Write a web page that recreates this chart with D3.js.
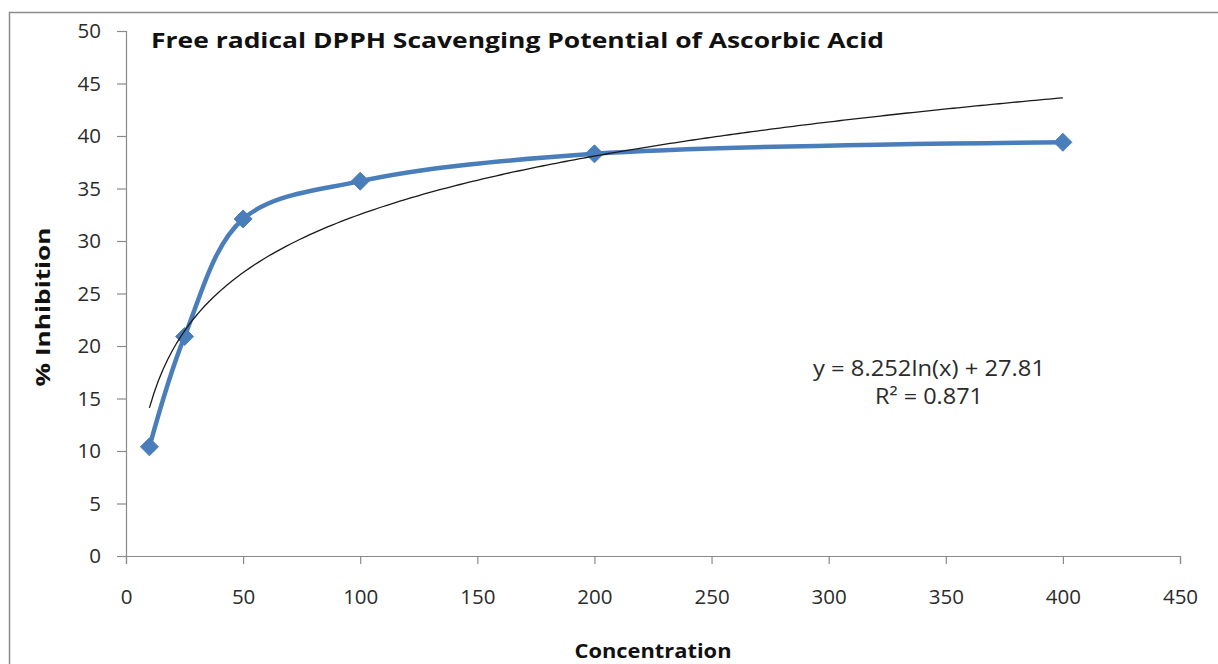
<!DOCTYPE html>
<html>
<head>
<meta charset="utf-8">
<script src="https://cdn.jsdelivr.net/npm/d3@7"></script>
<style>
  html, body { margin: 0; padding: 0; background: #fff; }
  svg { display: block; font-family: "Open Sans", "DejaVu Sans", sans-serif; }
</style>
</head>
<body>
<svg id="chart" width="1218" height="664"></svg>
<script>
// Ascorbic acid concentration and measured % inhibition
const concentrations = [10, 25, 50, 100, 200, 400];
const inhibition = [10.4, 20.9, 32.1, 35.7, 38.3, 39.4];
const xTicks = [0, 50, 100, 150, 200, 250, 300, 350, 400, 450];
const yTicks = [0, 5, 10, 15, 20, 25, 30, 35, 40, 45, 50];
const trendLabels = ["y = 8.252ln(x) + 27.81", "R² = 0.871"];

const svg = d3.select("#chart");
const W = 1218, H = 664;

// chart frame
svg.append("rect")
  .attr("x", 9.5).attr("y", 12.5)
  .attr("width", W + 20).attr("height", H + 20)
  .attr("fill", "#fff").attr("stroke", "#8c8c8c").attr("stroke-width", 1.5);

const x = d3.scaleLinear().domain([0, 450]).range([126, 1180]);
const y = d3.scaleLinear().domain([0, 50]).range([556, 31]);

const axisColor = "#8a8a8a";
const textColor = "#2b2b2b";

// y axis
const gy = svg.append("g")
  .attr("transform", `translate(${x(0)},0)`)
  .call(d3.axisLeft(y).tickValues(yTicks).tickSize(9).tickPadding(16).tickFormat(d3.format("d")));
gy.select(".domain").attr("stroke", axisColor).attr("stroke-width", 1.2);
gy.selectAll(".tick line").attr("stroke", axisColor).attr("stroke-width", 1.2);
gy.selectAll(".tick text").attr("font-size", 20.5).attr("fill", textColor)
  .attr("font-family", "'Open Sans', sans-serif");

// x axis
const gx = svg.append("g")
  .attr("transform", `translate(0,${y(0)})`)
  .call(d3.axisBottom(x).tickValues(xTicks).tickSize(8).tickPadding(25).tickFormat(d3.format("d")));
gx.select(".domain").attr("stroke", axisColor).attr("stroke-width", 1.2);
gx.selectAll(".tick line").attr("stroke", axisColor).attr("stroke-width", 1.2);
gx.selectAll(".tick text").attr("font-size", 20.5).attr("fill", textColor)
  .attr("font-family", "'Open Sans', sans-serif");

// logarithmic least-squares trend of the measurements
const lx = concentrations.map(Math.log);
const mx = d3.mean(lx), my = d3.mean(inhibition);
const slope = d3.sum(lx, (v, i) => (v - mx) * (inhibition[i] - my)) / d3.sum(lx, v => (v - mx) ** 2);
const intercept = my - slope * mx;
const trendPts = d3.range(0, 201).map(i => {
  const c = concentrations[0] + (concentrations[concentrations.length - 1] - concentrations[0]) * i / 200;
  return [c, slope * Math.log(c) + intercept];
});

const data = concentrations.map((c, i) => ({ c, v: inhibition[i] }));
const blue = "#4a7ebb";

// smoothed series line
svg.append("path")
  .datum(data)
  .attr("fill", "none").attr("stroke", blue).attr("stroke-width", 4.5)
  .attr("stroke-linejoin", "round").attr("stroke-linecap", "round")
  .attr("d", d3.line().x(d => x(d.c)).y(d => y(d.v)).curve(d3.curveCatmullRom.alpha(0.5)));

// diamond markers
svg.append("g").selectAll("path")
  .data(data).join("path")
  .attr("transform", d => `translate(${x(d.c)},${y(d.v)})`)
  .attr("d", "M0,-9L9,0L0,9L-9,0Z")
  .attr("fill", blue).attr("stroke", blue).attr("stroke-width", 1);

// trend line
svg.append("path")
  .datum(trendPts)
  .attr("fill", "none").attr("stroke", "#1a1a1a").attr("stroke-width", 1.3)
  .attr("d", d3.line().x(d => x(d[0])).y(d => y(d[1])));

// title
svg.append("text")
  .attr("x", 151).attr("y", 48)
  .attr("font-size", 22).attr("font-weight", "bold").attr("fill", "#111")
  .attr("textLength", 733).attr("lengthAdjust", "spacingAndGlyphs")
  .text("Free radical DPPH Scavenging Potential of Ascorbic Acid");

// axis titles
svg.append("text")
  .attr("transform", "translate(50,307) rotate(-90)")
  .attr("text-anchor", "middle")
  .attr("font-size", 20).attr("font-weight", "bold").attr("fill", "#111")
  .attr("textLength", 159).attr("lengthAdjust", "spacingAndGlyphs")
  .text("% Inhibition");

svg.append("text")
  .attr("x", 653).attr("y", 658)
  .attr("text-anchor", "middle")
  .attr("font-size", 20).attr("font-weight", "bold").attr("fill", "#111")
  .attr("textLength", 157).attr("lengthAdjust", "spacingAndGlyphs")
  .text("Concentration");

// trend equation
const eqWidths = [232, 108];
svg.append("g").selectAll("text")
  .data(trendLabels).join("text")
  .attr("x", 929).attr("y", (d, i) => 376 + i * 28)
  .attr("text-anchor", "middle")
  .attr("font-size", 22).attr("fill", textColor)
  .attr("textLength", (d, i) => eqWidths[i]).attr("lengthAdjust", "spacingAndGlyphs")
  .text(d => d);
</script>
</body>
</html>
